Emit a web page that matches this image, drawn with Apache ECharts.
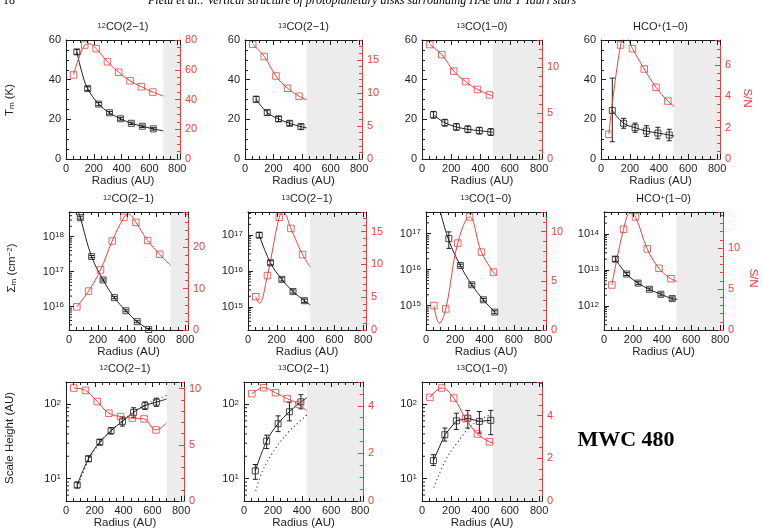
<!DOCTYPE html>
<html>
<head>
<meta charset="utf-8">
<title>MWC 480 vertical structure</title>
<script src="https://cdn.jsdelivr.net/npm/echarts@6/dist/echarts.min.js"></script>
<style>
    html, body { margin: 0; padding: 0; background: #fff; }
    #main { width: 763px; height: 532px; }
</style>
</head>
<body>
<div id="main"></div>
<script>
// ---- data: black = [r, value, low, high], red = [r, S/N] ----
// row 1: T_m (K)
var tm12co21 = [[78,54.0,52.8,55.2],[156,35.5,34.6,36.4],[235,27.7,26.9,28.5],[313,23.3,22.6,24.0],[392,20.3,19.6,21.0],[470,18.0,17.4,18.6],[549,16.5,15.9,17.1],[628,15.2,14.6,15.8]];
var tm12co21Fit = [[78,54.0],[115,43.5],[156,35.5],[235,27.7],[313,23.3],[392,20.3],[470,18.0],[549,16.5],[628,15.2],[700,14.2]];
var sn12co21T = [[54,56.5],[135,76.6],[217,74.2],[298,65.4],[379,58.3],[461,52.6],[542,48.6],[625,45.0]];
var sn12co21TFit = [[54,56.5],[135,76.6],[168,77.4],[217,74.2],[298,65.4],[379,58.3],[461,52.6],[542,48.6],[625,45.0],[700,42.3]];

var tm13co21 = [[78,30.1,28.6,31.6],[156,23.4,22.1,24.7],[235,20.2,18.9,21.5],[313,18.0,16.8,19.2],[392,16.3,15.0,17.6]];
var tm13co21Fit = [[78,30.1],[156,23.4],[235,20.2],[313,18.0],[392,16.3],[432,15.7]];
var sn13co21T = [[54,17.35],[135,15.5],[217,12.55],[298,10.7],[379,9.5]];
var sn13co21TFit = [[54,17.35],[135,15.5],[217,12.55],[298,10.7],[379,9.5],[432,8.95]];

var tm13co10 = [[78,22.3,20.6,24.0],[156,18.3,16.6,20.0],[235,16.2,14.5,17.9],[313,15.0,13.3,16.7],[392,14.3,12.6,16.0],[470,13.6,11.9,15.3]];
var tm13co10Fit = [[78,22.3],[156,18.3],[235,16.2],[313,15.0],[392,14.3],[470,13.6],[485,13.5]];
var sn13co10T = [[54,12.5],[135,11.4],[217,9.6],[298,8.45],[379,7.6],[461,7.0]];
var sn13co10TFit = [[54,12.5],[135,11.4],[217,9.6],[298,8.45],[379,7.6],[461,7.0],[485,6.85]];

var tmHco10 = [[78,24.5,8.7,40.8],[156,18.0,15.5,20.5],[235,15.8,13.5,18.1],[313,14.1,11.4,16.8],[392,13.1,10.2,16.0],[470,12.1,9.2,15.0]];
var tmHco10Fit = [[78,24.5],[156,18.0],[235,15.8],[313,14.1],[392,13.1],[470,12.1],[505,11.6]];
var snHco10T = [[54,1.58],[135,7.28],[217,7.05],[298,5.75],[379,4.58],[461,3.7]];
var snHco10TFit = [[54,1.58],[135,7.28],[172,7.8],[217,7.05],[298,5.75],[379,4.58],[461,3.7],[506,3.35]];

// row 2: Sigma_m (cm^-2)
var sd12co21 = [[78,3.5e18,3.2e18,3.85e18],[156,2.7e17,2.5e17,2.9e17],[235,5.8e16,5.4e16,6.2e16],[313,1.8e16,1.68e16,1.93e16],[392,7.6e15,7.1e15,8.1e15],[470,3.7e15,3.45e15,3.95e15],[549,2.2e15,2.05e15,2.35e15]];
var sd12co21Fit = [[64,5.3e18],[78,3.5e18],[156,2.7e17],[235,5.8e16],[313,1.8e16],[392,7.6e15],[470,3.7e15],[549,2.2e15],[580,1.7e15]];
var sn12co21S = [[54,5.6],[135,9.4],[217,14.5],[298,21.5],[379,27.2],[461,26.0],[542,21.6],[625,18.3]];
var sn12co21SFit = [[54,5.6],[135,9.4],[217,14.5],[298,21.5],[379,27.2],[410,28.0],[461,26.0],[542,21.6],[625,18.3],[700,15.6]];

var sd13co21 = [[78,1.0e17,0.85e17,1.18e17],[156,1.7e16,1.5e16,1.95e16],[235,5.9e15,5.3e15,6.5e15],[313,2.7e15,2.45e15,3.0e15],[392,1.5e15,1.35e15,1.67e15]];
var sd13co21Fit = [[78,1.0e17],[156,1.7e16],[235,5.9e15],[313,2.7e15],[392,1.5e15],[432,1.15e15]];
var sn13co21S = [[54,5.08],[135,8.3],[217,17.2],[298,15.5],[379,11.5]];
var sn13co21SFit = [[54,5.08],[78,4.07],[135,8.3],[217,17.2],[245,17.95],[298,15.5],[379,11.5],[432,9.65]];

var sd13co10 = [[156,7.3e16,3.9e16,1.12e17],[235,1.3e16,1.2e16,1.42e16],[313,3.8e15,3.5e15,4.15e15],[392,1.45e15,1.33e15,1.58e15],[470,6.6e14,6.0e14,7.2e14]];
var sd13co10Fit = [[98,4.1e17],[156,6.5e16],[235,1.3e16],[313,3.8e15],[392,1.45e15],[470,6.6e14]];
var sn13co10S = [[54,2.48],[135,2.14],[217,8.84],[298,11.5],[379,7.92],[461,5.88]];
var sn13co10SFit = [[54,2.48],[91,0.67],[135,2.14],[217,8.84],[298,11.5],[379,7.92],[461,5.88],[485,5.55]];

var sdHco10 = [[78,2.0e13,1.72e13,2.33e13],[156,7.7e12,7.0e12,8.4e12],[235,4.3e12,3.9e12,4.7e12],[313,2.9e12,2.65e12,3.15e12],[392,2.1e12,1.9e12,2.3e12],[470,1.6e12,1.45e12,1.77e12]];
var sdHco10Fit = [[78,2.0e13],[156,7.7e12],[235,4.3e12],[313,2.9e12],[392,2.1e12],[470,1.6e12],[505,1.52e12]];
var snHco10S = [[54,5.49],[135,12.3],[217,13.8],[298,9.9],[379,7.53],[461,6.26]];
var snHco10SFit = [[54,5.49],[135,12.3],[180,14.25],[217,13.8],[298,9.9],[379,7.53],[461,6.26],[506,5.9]];

// row 3: scale height (AU), dotted = reference model
var h12co21 = [[78,8.2,7.5,9.0],[156,18.5,17.0,20.2],[235,31,28.5,33.7],[313,44,40,48.5],[392,59,51,68],[470,78,67,90],[549,96,85,108],[628,107,94,121]];
var h12co21Fit = [[78,8.2],[156,18.5],[235,31],[313,44],[392,59],[470,78],[549,96],[628,107],[700,118]];
var h12co21Model = [[78,7.6],[156,17.5],[235,30],[313,44],[392,60],[470,80],[549,98],[628,116],[700,132]];
var sn12co21H = [[54,10.06],[135,9.85],[217,8.86],[298,7.82],[379,7.52],[461,7.38],[542,7.31],[625,6.33]];
var sn12co21HFit = [[54,10.06],[135,9.85],[217,8.86],[298,7.82],[379,7.52],[461,7.38],[542,7.31],[625,6.33],[700,6.95]];

var h13co21 = [[78,12.7,9.8,15.5],[156,32,25.4,38.5],[235,55,43,70],[313,79.5,60,107],[392,108,87,135]];
var h13co21Fit = [[78,12.7],[156,32],[235,55],[313,79.5],[392,108],[432,122]];
var h13co21Model = [[81,6.8],[130,13],[220,26],[310,43],[376,57],[432,72]];
var sn13co21H = [[54,4.51],[135,4.76],[217,4.55],[298,4.30],[379,4.06]];
var sn13co21HFit = [[54,4.51],[135,4.76],[217,4.55],[298,4.30],[379,4.06],[432,3.78]];

var h13co10 = [[78,17.5,15,21],[156,39,32,48],[235,60,46,76],[313,65,48,83],[392,59,41,80],[470,61,39,83]];
var h13co10Fit = [[78,17.5],[156,39],[235,60],[313,65],[392,59],[470,61]];
var h13co10Model = [[80,7.6],[163,18],[236,29.5],[320,48],[387,61],[470,73]];
var sn13co10H = [[54,4.85],[135,5.29],[217,4.82],[298,3.86],[379,3.14],[461,2.77]];
var sn13co10HFit = [[54,4.85],[135,5.29],[217,4.82],[298,3.86],[379,3.14],[461,2.77],[488,2.72]];

var radiusTicks = [0, 200, 400, 600, 800];

// ---- layout ----
var FONT = '"Liberation Sans", Arial, sans-serif';
var INK = '#1e1e1e', RED = '#e5443e', SHADE = '#ececec';
var XMAX = 820;

var panels = [
    {box: [66, 40, 114, 119], title: '{sup|12}CO(2−1)', yType: 'value', yMin: 0, yMax: 60, yStep: 20, snMax: 80, snStep: 20, snMinor: 4, gray: 700,
        pts: tm12co21, fit: tm12co21Fit, sn: sn12co21T, snFit: sn12co21TFit},
    {box: [245, 40, 117, 119], title: '{sup|13}CO(2−1)', yType: 'value', yMin: 0, yMax: 60, yStep: 20, snMax: 18, snStep: 5, snMinor: 5, gray: 432,
        pts: tm13co21, fit: tm13co21Fit, sn: sn13co21T, snFit: sn13co21TFit},
    {box: [422, 40, 120, 119], title: '{sup|13}CO(1−0)', yType: 'value', yMin: 0, yMax: 60, yStep: 20, snMax: 13, snStep: 5, snMinor: 5, gray: 485,
        pts: tm13co10, fit: tm13co10Fit, sn: sn13co10T, snFit: sn13co10TFit},
    {box: [601, 40, 119, 119], title: 'HCO{sup|+}(1−0)', yType: 'value', yMin: 0, yMax: 60, yStep: 20, snMax: 7.6, snStep: 2, snMinor: 4, gray: 500,
        pts: tmHco10, fit: tmHco10Fit, sn: snHco10T, snFit: snHco10TFit},

    {box: [69, 212, 119, 118], title: '{sup|12}CO(2−1)', yType: 'log', yMin: 2.14e15, yMax: 5.1e18, snMax: 28.5, snStep: 10, snMinor: 5, gray: 700,
        pts: sd12co21, fit: sd12co21Fit, sn: sn12co21S, snFit: sn12co21SFit},
    {box: [248, 212, 118, 118], title: '{sup|13}CO(2−1)', yType: 'log', yMin: 2.3e14, yMax: 4.4e17, snMax: 18, snStep: 5, snMinor: 5, gray: 432,
        pts: sd13co21, fit: sd13co21Fit, sn: sn13co21S, snFit: sn13co21SFit},
    {box: [426, 212, 120, 118], title: '{sup|13}CO(1−0)', yType: 'log', yMin: 2.1e14, yMax: 4.0e17, snMax: 12, snStep: 5, snMinor: 5, gray: 485,
        pts: sd13co10, fit: sd13co10Fit, sn: sn13co10S, snFit: sn13co10SFit},
    {box: [604, 212, 119, 118], title: 'HCO{sup|+}(1−0)', yType: 'log', yMin: 2.14e11, yMax: 4.07e14, snMax: 14.4, snStep: 5, snMinor: 5, gray: 500,
        pts: sdHco10, fit: sdHco10Fit, sn: snHco10S, snFit: snHco10SFit},

    {box: [66, 382, 118, 119], title: '{sup|12}CO(2−1)', yType: 'log', yMin: 5, yMax: 200, snMax: 10.6, snStep: 5, snMinor: 5, gray: 700,
        pts: h12co21, fit: h12co21Fit, model: h12co21Model, sn: sn12co21H, snFit: sn12co21HFit},
    {box: [244, 382, 119, 119], title: '{sup|13}CO(2−1)', yType: 'log', yMin: 5, yMax: 200, snMax: 5.0, snStep: 2, snMinor: 4, gray: 432,
        pts: h13co21, fit: h13co21Fit, model: h13co21Model, sn: sn13co21H, snFit: sn13co21HFit},
    {box: [422, 382, 120, 119], title: '{sup|13}CO(1−0)', yType: 'log', yMin: 5, yMax: 200, snMax: 5.57, snStep: 2, snMinor: 4, gray: 485, straight: true,
        pts: h13co10, fit: h13co10Fit, model: h13co10Model, sn: sn13co10H, snFit: sn13co10HFit}
];

var myChart = echarts.init(document.getElementById('main'), null, {renderer: 'canvas'});

var option = {
    animation: false,
    backgroundColor: '#fff',
    textStyle: {fontFamily: FONT},
    grid: [], xAxis: [], yAxis: [], series: [], graphic: []
};

function isStep(v, step) {
    return Math.abs(v / step - Math.round(v / step)) < 1e-6;
}

function shadeItem(params, api) {
    var cs = params.coordSys;
    var x0 = api.coord([api.value(0), api.value(1)])[0];
    return {type: 'rect', shape: {x: x0, y: cs.y, width: cs.x + cs.width - x0, height: cs.height}, style: {fill: SHADE}};
}

function errorItem(params, api) {
    var hi = api.coord([api.value(0), api.value(3)]);
    var lo = api.coord([api.value(0), api.value(2)]);
    var w = 2.5, st = {stroke: INK, lineWidth: 1};
    return {type: 'group', children: [
        {type: 'line', shape: {x1: hi[0], y1: hi[1], x2: lo[0], y2: lo[1]}, style: st},
        {type: 'line', shape: {x1: hi[0] - w, y1: hi[1], x2: hi[0] + w, y2: hi[1]}, style: st},
        {type: 'line', shape: {x1: lo[0] - w, y1: lo[1], x2: lo[0] + w, y2: lo[1]}, style: st}
    ]};
}

function minorItem(params, api) {
    var c = api.coord([0, api.value(1)]);
    return {type: 'line', shape: {x1: c[0], y1: c[1], x2: c[0] + 3, y2: c[1]}, style: {stroke: INK, lineWidth: 1}};
}

panels.forEach(function (p, i) {
    var b = p.box;
    var xi = 2 * i, yl = 2 * i, yr = 2 * i + 1;
    option.grid.push({left: b[0], top: b[1], width: b[2], height: b[3], show: false});

    var xTick = {inside: true, length: 5, lineStyle: {color: INK}};
    var xMinor = {show: true, splitNumber: 4, length: 3, lineStyle: {color: INK}};
    option.xAxis.push({
        gridIndex: i, type: 'value', position: 'bottom', min: 0, max: XMAX, interval: 200, z: 5,
        axisLine: {onZero: false, lineStyle: {color: INK, width: 1}},
        axisTick: xTick, minorTick: xMinor, splitLine: {show: false},
        axisLabel: {color: INK, fontSize: 11, fontFamily: FONT, margin: 4,
            formatter: function (v) { return radiusTicks.indexOf(v) >= 0 ? String(v) : ''; }},
        name: 'Radius (AU)', nameLocation: 'middle', nameGap: 16,
        nameTextStyle: {color: INK, fontSize: 11.5, fontFamily: FONT}
    });
    option.xAxis.push({
        gridIndex: i, type: 'value', position: 'top', min: 0, max: XMAX, interval: 200, z: 5,
        axisLine: {onZero: false, lineStyle: {color: INK, width: 1}},
        axisTick: xTick, minorTick: xMinor, splitLine: {show: false}, axisLabel: {show: false}
    });

    var left = {
        gridIndex: i, type: p.yType, position: 'left', min: p.yMin, max: p.yMax, z: 5,
        axisLine: {show: true, onZero: false, lineStyle: {color: INK, width: 1}},
        axisTick: {inside: true, length: 5, lineStyle: {color: INK}},
        splitLine: {show: false},
        axisLabel: {color: INK, fontSize: 11, fontFamily: FONT, margin: 5}
    };
    if (p.yType === 'log') {
        left.logBase = 10;
        left.axisLabel.formatter = function (v) {
            var e = Math.log10(v);
            if (Math.abs(e - Math.round(e)) > 1e-6) return '';
            return '10{sup|' + Math.round(e) + '}';
        };
        left.axisLabel.rich = {sup: {fontSize: 8, fontFamily: FONT, color: INK, verticalAlign: 'top', lineHeight: 10}};
    } else {
        left.interval = p.yStep;
        left.minorTick = {show: true, splitNumber: 4, length: 3, lineStyle: {color: INK}};
        left.axisLabel.formatter = function (v) { return isStep(v, p.yStep) ? String(v) : ''; };
    }
    option.yAxis.push(left);
    option.yAxis.push({
        gridIndex: i, type: 'value', position: 'right', min: 0, max: p.snMax, interval: p.snStep, z: 5,
        axisLine: {show: true, onZero: false, lineStyle: {color: RED, width: 1}},
        axisTick: {inside: true, length: 5, lineStyle: {color: RED}},
        minorTick: {show: true, splitNumber: p.snMinor, length: 3, lineStyle: {color: RED}},
        splitLine: {show: false},
        axisLabel: {color: RED, fontSize: 11, fontFamily: FONT, margin: 5,
            formatter: function (v) { return isStep(v, p.snStep) ? String(v) : ''; }}
    });

    // shaded zone beyond the fitted radius
    option.series.push({type: 'custom', xAxisIndex: xi, yAxisIndex: yl, z: 1, silent: true,
        data: [[p.gray, p.yMax]], renderItem: shadeItem});

    if (p.model) {
        option.series.push({type: 'line', xAxisIndex: xi, yAxisIndex: yl, z: 2, data: p.model, smooth: 0.4,
            showSymbol: false, symbol: 'none', silent: true, clip: true,
            lineStyle: {color: INK, width: 1.1, type: [1, 3]}});
    }
    option.series.push({type: 'line', xAxisIndex: xi, yAxisIndex: yl, z: 3, data: p.fit, smooth: p.straight ? false : 0.4,
        symbol: 'none', silent: true, clip: true, lineStyle: {color: INK, width: 1}});
    option.series.push({type: 'custom', xAxisIndex: xi, yAxisIndex: yl, z: 3, silent: true, clip: true,
        data: p.pts, renderItem: errorItem});
    option.series.push({type: 'scatter', xAxisIndex: xi, yAxisIndex: yl, z: 4, silent: true, clip: true,
        data: p.pts.map(function (d) { return [d[0], d[1]]; }),
        symbol: 'rect', symbolSize: 6,
        itemStyle: {color: 'rgba(255,255,255,0)', borderColor: INK, borderWidth: 1}});

    option.series.push({type: 'line', xAxisIndex: xi, yAxisIndex: yr, z: 3, data: p.snFit, smooth: 0.4,
        symbol: 'none', silent: true, clip: true, lineStyle: {color: RED, width: 1}});
    option.series.push({type: 'scatter', xAxisIndex: xi, yAxisIndex: yr, z: 4, silent: true, clip: true,
        data: p.sn, symbol: 'rect', symbolSize: 6.5,
        itemStyle: {color: 'rgba(255,255,255,0)', borderColor: RED, borderWidth: 1}});

    if (p.yType === 'log') {
        var minors = [];
        for (var e = Math.floor(Math.log10(p.yMin)); e <= Math.ceil(Math.log10(p.yMax)); e++) {
            for (var k = 2; k <= 9; k++) {
                var v = k * Math.pow(10, e);
                if (v > p.yMin && v < p.yMax) minors.push([0, v]);
            }
        }
        option.series.push({type: 'custom', xAxisIndex: xi, yAxisIndex: yl, z: 6, silent: true,
            data: minors, renderItem: minorItem});
    }

    option.graphic.push({type: 'text', x: b[0] + b[2] / 2, y: b[1] - 13, silent: true,
        style: {text: p.title, align: 'center', verticalAlign: 'middle', fill: INK, fontSize: 11, fontFamily: FONT,
            rich: {sup: {fontSize: 7.5, fontFamily: FONT, fill: INK, verticalAlign: 'top', lineHeight: 9}}}});
});

// axis titles and labels outside the panels
var subRich = {
    sub: {fontSize: 8, fontFamily: FONT, fill: INK, verticalAlign: 'bottom', lineHeight: 10},
    sup: {fontSize: 8, fontFamily: FONT, fill: INK, verticalAlign: 'top', lineHeight: 10}
};
option.graphic.push(
    {type: 'text', x: 10, y: 100, rotation: Math.PI / 2, silent: true,
        style: {text: 'T{sub|m} (K)', align: 'center', verticalAlign: 'middle', fill: INK, fontSize: 11.5, fontFamily: FONT, rich: subRich}},
    {type: 'text', x: 12, y: 268, rotation: Math.PI / 2, silent: true,
        style: {text: 'Σ{sub|m} (cm{sup|−2})', align: 'center', verticalAlign: 'middle', fill: INK, fontSize: 11.5, fontFamily: FONT, rich: subRich}},
    {type: 'text', x: 10, y: 438, rotation: Math.PI / 2, silent: true,
        style: {text: 'Scale Height (AU)', align: 'center', verticalAlign: 'middle', fill: INK, fontSize: 11.5, fontFamily: FONT}},
    {type: 'text', x: 747, y: 98, rotation: -Math.PI / 2, silent: true,
        style: {text: 'S/N', align: 'center', verticalAlign: 'middle', fill: RED, fontSize: 11.5, fontFamily: FONT}},
    {type: 'text', x: 753, y: 278, rotation: -Math.PI / 2, silent: true,
        style: {text: 'S/N', align: 'center', verticalAlign: 'middle', fill: RED, fontSize: 11.5, fontFamily: FONT}},
    {type: 'text', x: 626, y: 440, silent: true,
        style: {text: 'MWC 480', align: 'center', verticalAlign: 'middle', fill: '#000', fontSize: 22, fontWeight: 'bold', fontFamily: '"Liberation Serif", "Times New Roman", serif'}},
    {type: 'text', x: 3, y: -5, silent: true,
        style: {text: '18', align: 'left', verticalAlign: 'top', fill: '#000', fontSize: 12, fontFamily: '"Liberation Serif", serif'}},
    {type: 'text', x: 148, y: -5, silent: true,
        style: {text: 'Pietu et al.: Vertical structure of protoplanetary disks surrounding HAe and T Tauri stars', align: 'left', verticalAlign: 'top',
            fill: '#000', fontSize: 12, fontStyle: 'italic', fontFamily: '"Liberation Serif", serif'}}
);

myChart.setOption(option);
</script>
</body>
</html>
